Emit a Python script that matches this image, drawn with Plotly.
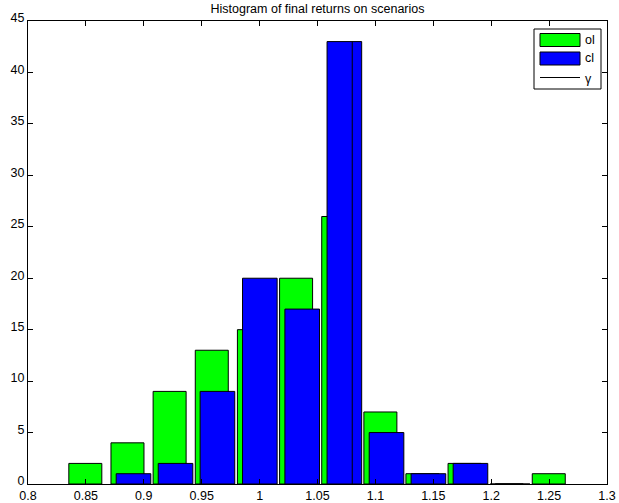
import plotly.graph_objects as go

# Histogram data: bin centres and counts for each policy
ol_centers = [0.8495, 0.8859, 0.9223, 0.9587, 0.9951, 1.0315, 1.0679,
              1.1043, 1.1406, 1.1770, 1.2134, 1.2497]
ol_counts = [2, 4, 9, 13, 15, 20, 26, 7, 1, 2, 0, 1]

cl_centers = [0.8911, 0.9274, 0.9636, 1.0002, 1.0368, 1.0732,
              1.1096, 1.1458, 1.1821, 1.2185]
cl_counts = [1, 2, 9, 20, 17, 43, 5, 1, 2, 0]

gamma = 1.08

x_ticks = [0.8, 0.85, 0.9, 0.95, 1.0, 1.05, 1.1, 1.15, 1.2, 1.25, 1.3]
x_tick_labels = ["0.8", "0.85", "0.9", "0.95", "1", "1.05", "1.1",
                 "1.15", "1.2", "1.25", "1.3"]
y_ticks = [0, 5, 10, 15, 20, 25, 30, 35, 40, 45]

W, H = 619, 503
ML, MR, MT, MB = 28, 12, 21, 19
PW, PH = W - ML - MR, H - MT - MB

FONT = "Liberation Sans, Arial, Helvetica, sans-serif"
FS = 12.5


def px(xp):
    return (xp - ML) / PW


def py(yp):
    return (H - MB - yp) / PH


fig = go.Figure()
fig.add_trace(go.Bar(x=ol_centers, y=ol_counts, width=0.0285, name="ol",
                     marker=dict(color="#00ff00",
                                 line=dict(color="black", width=1)),
                     showlegend=False))
fig.add_trace(go.Bar(x=cl_centers, y=cl_counts, width=0.0299, name="cl",
                     marker=dict(color="#0000ff",
                                 line=dict(color="black", width=1)),
                     showlegend=False))
fig.add_trace(go.Scatter(x=[gamma, gamma], y=[0, max(cl_counts)],
                         mode="lines", name="γ",
                         line=dict(color="black", width=1),
                         showlegend=False))

# Legend box drawn in paper coordinates
shapes = [
    dict(type="rect", xref="paper", yref="paper",
         x0=px(534), x1=px(601), y0=py(89), y1=py(29),
         line=dict(color="black", width=1), fillcolor="white", layer="above"),
    dict(type="rect", xref="paper", yref="paper",
         x0=px(540), x1=px(580), y0=py(46.5), y1=py(33.5),
         line=dict(color="black", width=1), fillcolor="#00ff00", layer="above"),
    dict(type="rect", xref="paper", yref="paper",
         x0=px(540), x1=px(580), y0=py(65), y1=py(52),
         line=dict(color="black", width=1), fillcolor="#0000ff", layer="above"),
    dict(type="line", xref="paper", yref="paper",
         x0=px(540), x1=px(580), y0=py(77.5), y1=py(77.5),
         line=dict(color="black", width=1), layer="above"),
]
annotations = []
for label, yc in [("ol", 40), ("cl", 58.5), ("γ", 79)]:
    annotations.append(dict(text=label, xref="paper", yref="paper",
                            x=px(583), y=py(yc), xanchor="left",
                            yanchor="middle", showarrow=False,
                            font=dict(family=FONT, size=FS, color="black")))

axis_common = dict(showline=True, linecolor="black", linewidth=1,
                   mirror="ticks", ticks="inside", ticklen=5,
                   tickcolor="black", tickwidth=1, showgrid=False,
                   zeroline=False, automargin=False,
                   tickfont=dict(family=FONT, size=FS, color="black"))

fig.update_layout(
    width=W, height=H,
    margin=dict(l=ML, r=MR, t=MT, b=MB),
    paper_bgcolor="white", plot_bgcolor="white",
    barmode="overlay",
    title=dict(text="Histogram of final returns on scenarios",
               x=(ML + PW / 2) / W, xanchor="center",
               y=1 - 9 / H, yanchor="middle",
               font=dict(family=FONT, size=FS, color="black")),
    xaxis=dict(range=[0.8, 1.3], tickvals=x_ticks, ticktext=x_tick_labels,
               ticklabelstandoff=0, **axis_common),
    yaxis=dict(range=[0, 45], tickvals=y_ticks, ticklabelstandoff=0,
               ticklabelshift=-3, **axis_common),
    shapes=shapes, annotations=annotations,
)

fig.write_html("out.html")
